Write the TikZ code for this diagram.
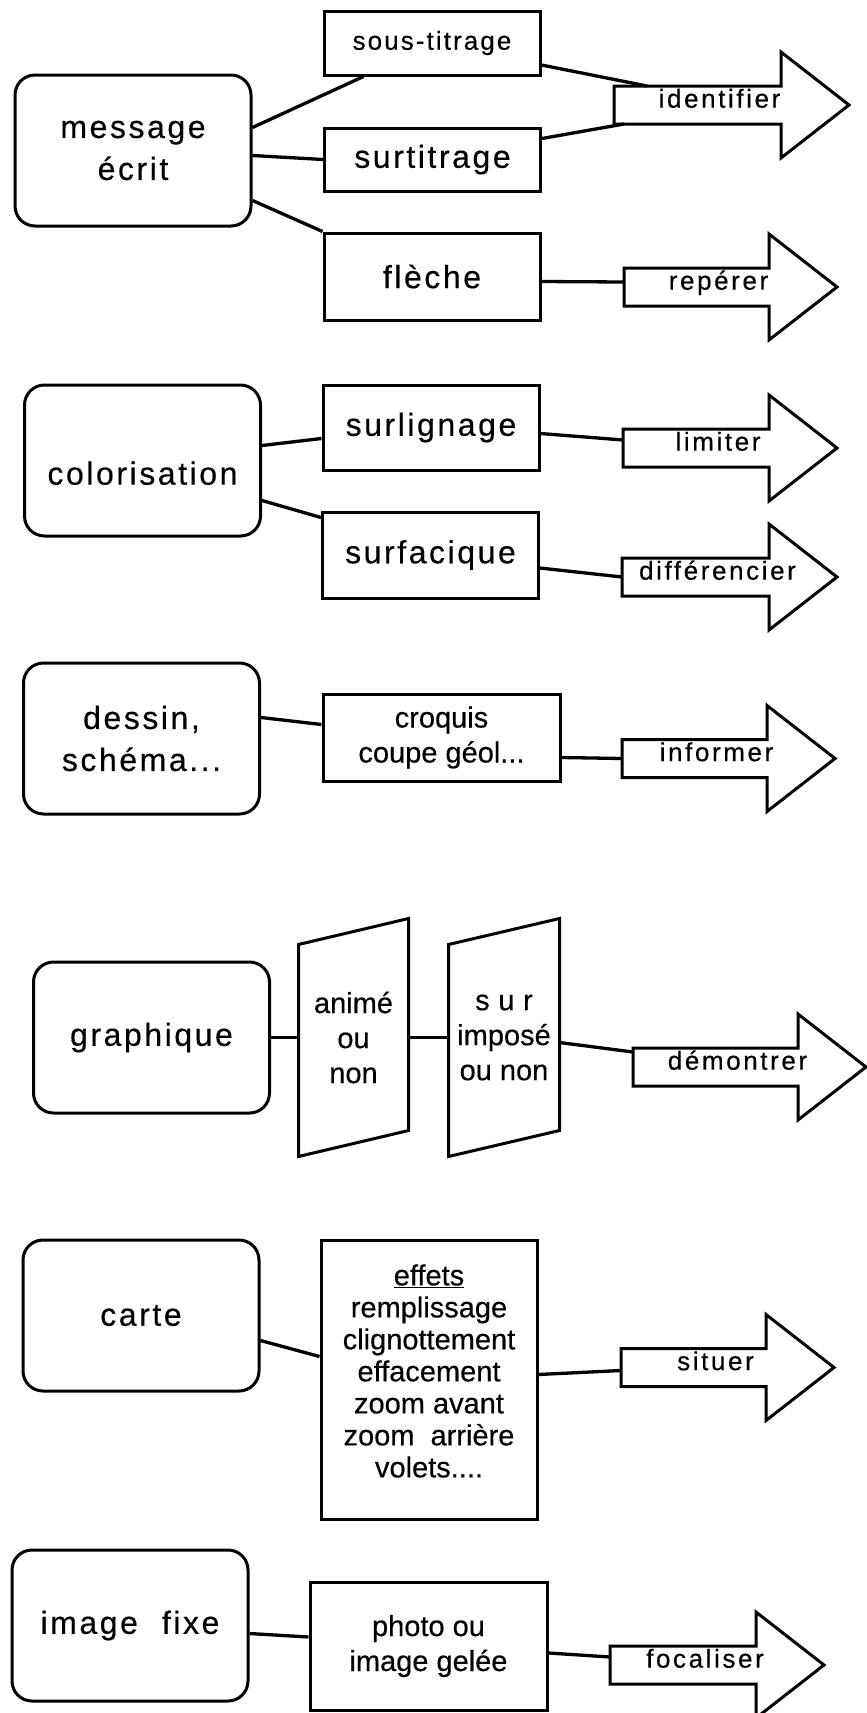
\documentclass[tikz,border=0pt]{standalone}
\usepackage{fontspec}
\setmainfont{Liberation Sans}[FakeBold=0.4]
\newfontfamily\widefont{Liberation Sans}[LetterSpace=8, FakeBold=0.4]
\newfontfamily\arrowfont{Liberation Sans}[LetterSpace=10, FakeBold=0.4]
\usetikzlibrary{calc}

\begin{document}
\begin{tikzpicture}[x=1pt, y=-1pt, line width=3pt]
\tikzset{
  srcbox/.style={draw, rounded corners=20pt, minimum width=236pt, minimum height=151pt, align=center, font=\widefont\fontsize{32}{42}\selectfont},
  midbox/.style={draw, minimum width=216pt, align=center, inner sep=0pt},
  bigtxt/.style={font=\widefont\fontsize{32}{42}\selectfont},
  smalltxt/.style={font=\fontsize{29}{35}\selectfont, align=center},
  arrowlabel/.style={font=\arrowfont\fontsize{26}{30}\selectfont, anchor=mid, inner sep=0pt},
  conn/.style={line width=3.3pt},
  pics/bigarrow/.style 2 args={code={
    \draw (0,-19) -- (#1,-19) -- (#1,-53) -- (#1+68,0) -- (#1,53) -- (#1,19) -- (0,19) -- cycle;
    \coordinate (-tail) at (0,0);
    \node[arrowlabel] (-label) at (#1/2+22,0) {#2};
  }}
}
\useasboundingbox (0,0) rectangle (867,1713);

\node[srcbox] (msg) at (133,150.5) {message\\écrit};
\node[srcbox] (color) at (142.5,460.5) {};
\node[bigtxt, anchor=mid] (color-txt) at (142.5,482) {colorisation};
\node[srcbox] (dessin) at (141.5,738.5) {dessin,\\schéma...};
\node[srcbox] (graph) at (151.5,1037.5) {graphique};
\node[srcbox] (carte) at (141,1315.5) {carte};
\node[srcbox] (fixe) at (130,1625.5) {image\hspace{24pt}fixe};

\node[midbox, minimum height=64pt, font=\widefont\fontsize{26}{30}\selectfont] (soustit) at (432,43) {sous-titrage};
\node[midbox, minimum height=63pt, bigtxt] (surtit) at (432.5,159.5) {surtitrage};
\node[midbox, minimum height=87pt, bigtxt] (fleche) at (432,276.5) {flèche};
\node[midbox, minimum height=85pt, bigtxt] (surlig) at (431,427.5) {surlignage};
\node[midbox, minimum height=86pt, bigtxt] (surfac) at (430.5,555) {surfacique};
\node[midbox, smalltxt, minimum width=237pt, minimum height=87pt] (croquis) at (441.5,737.5) {croquis\\coupe géol...};
\node[midbox, minimum height=279pt] (effets) at (429,1379.5) {};
\node[smalltxt, font=\fontsize{29}{32}\selectfont] (effets-txt) at (429,1371) {\underline{effets}\\remplissage\\clignottement\\effacement\\zoom avant\\zoom\ \ arrière\\volets....};
\node[midbox, smalltxt, minimum width=237pt, minimum height=128pt] (photo) at (428.5,1646) {photo ou\\image gelée};

\node[smalltxt, minimum width=107pt, minimum height=209pt] (anime) at (353.5,1037.5) {animé\\ou\\non};
\node[smalltxt, minimum width=108pt, minimum height=209pt] (surimp) at (504,1037.5) {{\addfontfeatures{LetterSpace=30}sur}\\imposé\\ou non};
\foreach \p in {anime,surimp}
  \draw ($(\p.north west)+(0,13)$) -- ($(\p.south west)+(0,13)$) -- ($(\p.south east)+(0,-13)$) -- ($(\p.north east)+(0,-13)$) -- cycle;

\pic (ident) at (614,105) {bigarrow={167}{identifier}};
\pic (reperer) at (624,287) {bigarrow={145}{repérer}};
\pic (limiter) at (623,448) {bigarrow={146}{limiter}};
\pic (diff) at (622,577) {bigarrow={147}{différencier}};
\pic (informer) at (622,758.5) {bigarrow={145}{informer}};
\pic (demontrer) at (633,1067) {bigarrow={165}{démontrer}};
\pic (situer) at (621,1367.5) {bigarrow={145}{situer}};
\pic (focal) at (610,1665) {bigarrow={146}{focaliser}};

\draw[conn] ($(msg.east)+(0,-23)$) -- ($(soustit.south west)+(41,0)$);
\draw[conn] ($(msg.east)+(0,5)$) -- (surtit.west);
\draw[conn] ($(msg.east)+(0,50)$) -- (fleche.north west);
\draw[conn] ($(soustit.east)+(0,22)$) -- ($(ident-tail)+(33,-19)$);
\draw[conn] ($(surtit.east)+(0,-21)$) -- ($(ident-tail)+(10,19)$);
\draw[conn] ($(fleche.east)+(0,5)$) -- ($(reperer-tail)+(0,-5)$);
\draw[conn] ($(color.east)+(0,-15)$) -- ($(surlig.west)+(0,11)$);
\draw[conn] ($(color.east)+(0,40)$) -- ($(surfac.north west)+(0,7)$);
\draw[conn] ($(surlig.east)+(0,6)$) -- ($(limiter-tail)+(0,-8)$);
\draw[conn] ($(surfac.east)+(0,13)$) -- (diff-tail);
\draw[conn] ($(dessin.east)+(0,-21)$) -- ($(croquis.west)+(0,-13)$);
\draw[conn] ($(croquis.east)+(0,20)$) -- (informer-tail);
\draw[conn] (graph.east) -- (anime.west);
\draw[conn] (anime.east) -- (surimp.west);
\draw[conn] ($(surimp.east)+(0,5)$) -- ($(demontrer-tail)+(0,-15)$);
\draw[conn] ($(carte.east)+(0,25)$) -- ($(effets.west)+(0,-23)$);
\draw[conn] ($(effets.east)+(0,-5)$) -- ($(situer-tail)+(0,3)$);
\draw[conn] ($(fixe.east)+(0,8)$) -- ($(photo.west)+(0,-9)$);
\draw[conn] ($(photo.east)+(0,7)$) -- ($(focal-tail)+(0,-8)$);
\end{tikzpicture}
\end{document}
